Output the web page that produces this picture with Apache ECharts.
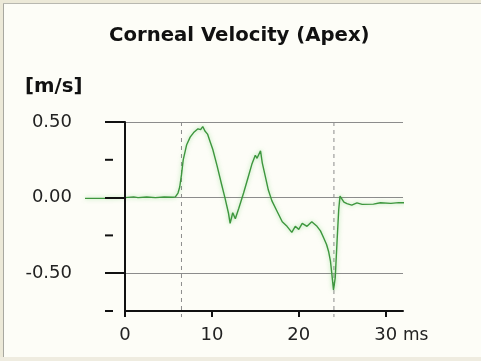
<!DOCTYPE html>
<html><head><meta charset="utf-8">
<script src="https://cdn.jsdelivr.net/npm/echarts@6/dist/echarts.min.js"></script>
<style>html,body{margin:0;padding:0;background:#fdfdf7;overflow:hidden}#c{width:481px;height:361px}</style>
</head><body><div id="c"></div>
<script>
const timeMs = [-4.6, -2, 0, 1.0, 1.5, 2.5, 3.5, 4.5, 5.5, 5.8, 6.1, 6.3, 6.5, 6.7, 7.1, 7.5, 7.9, 8.4, 8.7, 8.95, 9.2, 9.5, 9.8, 10.1, 10.6, 11.15, 11.5, 11.9, 12.1, 12.4, 12.7, 13.1, 13.65, 14.2, 14.6, 15.0, 15.2, 15.6, 15.8, 16.15, 16.5, 16.9, 17.5, 18.1, 18.65, 19.2, 19.6, 20.0, 20.4, 20.95, 21.5, 22.1, 22.5, 22.9, 23.2, 23.45, 23.65, 23.8, 24.0, 24.2, 24.4, 24.6, 24.75, 24.9, 25.2, 25.55, 26.1, 26.7, 27.3, 28.6, 29.4, 30.6, 31.5, 32.3];
const velocity = [-0.005, -0.004, 0.0, 0.005, 0.0, 0.004, 0.0, 0.004, 0.002, 0.005, 0.03, 0.07, 0.15, 0.25, 0.35, 0.40, 0.43, 0.455, 0.45, 0.47, 0.44, 0.42, 0.37, 0.32, 0.21, 0.08, 0.0, -0.10, -0.17, -0.10, -0.14, -0.07, 0.03, 0.14, 0.22, 0.28, 0.26, 0.31, 0.23, 0.14, 0.05, -0.02, -0.09, -0.16, -0.19, -0.23, -0.19, -0.21, -0.17, -0.19, -0.16, -0.19, -0.22, -0.27, -0.31, -0.36, -0.42, -0.50, -0.61, -0.53, -0.30, -0.08, 0.01, 0.02, -0.03, -0.04, -0.05, -0.035, -0.045, -0.043, -0.034, -0.038, -0.033, -0.034];
const yTickValues = [-0.5, 0, 0.5];
const yMinorTicks = [-0.75, -0.25, 0.25];
const xTickValues = [0, 10, 20, 30];
const eventTimes = [6.5, 24.05];
const gridLevels = [0.5, 0, -0.5];

const FONT = 'DejaVu Sans';
const X_MIN = 0, X_MAX = 32, X_PRE = -5;
const PLOT_LEFT = 125, PLOT_RIGHT = 78, PLOT_W = 481 - PLOT_LEFT - PLOT_RIGHT;
const PRE_LEFT = PLOT_LEFT - (X_MIN - X_PRE) * PLOT_W / (X_MAX - X_MIN);

const chart = echarts.init(document.getElementById('c'), null, {renderer: 'canvas'});
const curve = timeMs.map((t, i) => [t, velocity[i]]);

const series = [{
  type: 'line',
  data: curve,
  xAxisIndex: 1, yAxisIndex: 2,
  symbol: 'none',
  clip: false,
  z: 5,
  lineStyle: {color: '#3d963d', width: 1.4, shadowColor: 'rgba(90,200,90,0.55)', shadowBlur: 4}
}, {
  type: 'line', data: [], xAxisIndex: 0, yAxisIndex: 0,
  markLine: {
    silent: true, symbol: 'none', label: {show: false}, animation: false,
    lineStyle: {color: '#8c8c8c', width: 1.2, type: 'solid'},
    data: gridLevels.map(v => ({yAxis: v}))
  }
}];
eventTimes.forEach(t => series.push({
  type: 'line', data: [[t, 0.5], [t, -0.79]], xAxisIndex: 0, yAxisIndex: 0,
  symbol: 'none', clip: false, silent: true, z: 3,
  lineStyle: {color: '#8c8c8c', width: 1, type: [4, 4]}
}));

chart.setOption({
  animation: false,
  backgroundColor: '#fdfdf7',
  graphic: [
    {type: 'rect', shape: {x: 0, y: 0, width: 481, height: 3}, style: {fill: '#ece9d8'}, z: -10},
    {type: 'rect', shape: {x: 0, y: 0, width: 3, height: 361}, style: {fill: '#ece9d8'}, z: -10},
    {type: 'rect', shape: {x: 0, y: 357, width: 481, height: 4}, style: {fill: '#efece0'}, z: -10},
    {type: 'line', shape: {x1: 3.5, y1: 3, x2: 3.5, y2: 357}, style: {stroke: '#a8a8a0', lineWidth: 1}, z: -9},
    {type: 'line', shape: {x1: 3, y1: 3.5, x2: 481, y2: 3.5}, style: {stroke: '#b8b8b0', lineWidth: 1}, z: -9}
  ],
  title: [
    {text: 'Corneal Velocity (Apex)', left: 104, top: 21,
     textStyle: {fontFamily: FONT, fontWeight: 'bold', fontSize: 19.7, color: '#111'}},
    {text: '[m/s]', left: 20, top: 72,
     textStyle: {fontFamily: FONT, fontWeight: 'bold', fontSize: 19.7, color: '#111'}}
  ],
  grid: [
    {left: PLOT_LEFT, right: PLOT_RIGHT, top: 122, bottom: 50, containLabel: false},
    {left: PRE_LEFT, right: PLOT_RIGHT, top: 122, bottom: 50, containLabel: false}
  ],
  xAxis: [{
    type: 'value', min: X_MIN, max: X_MAX, gridIndex: 0,
    name: 'ms', nameLocation: 'end', nameGap: -2,
    nameTextStyle: {fontFamily: FONT, fontSize: 17, color: '#222', verticalAlign: 'top', align: 'left', padding: [16, 0, 0, 0]},
    axisLine: {show: true, onZero: false, lineStyle: {color: '#111', width: 2}},
    axisTick: {show: true, customValues: xTickValues, length: 6, lineStyle: {color: '#111', width: 2}},
    axisLabel: {customValues: xTickValues, margin: 15, fontFamily: FONT, fontSize: 18, color: '#222'},
    splitLine: {show: false}
  }, {
    type: 'value', min: X_PRE, max: X_MAX, gridIndex: 1, show: false
  }],
  yAxis: [{
    type: 'value', min: -0.75, max: 0.5, gridIndex: 0, z: 6,
    axisLine: {show: true, onZero: false, lineStyle: {color: '#111', width: 2}},
    axisTick: {show: true, customValues: yTickValues, length: 20, lineStyle: {color: '#111', width: 2}},
    axisLabel: {customValues: yTickValues, margin: 53, fontFamily: FONT, fontSize: 18, color: '#222',
      formatter: v => v.toFixed(2)},
    splitLine: {show: false}
  }, {
    type: 'value', min: -0.75, max: 0.5, position: 'left', gridIndex: 0,
    axisLine: {show: false},
    axisTick: {show: false},
    axisLabel: {customValues: yMinorTicks, margin: 12, formatter: () => '{d|}',
      rich: {d: {width: 8, height: 2, backgroundColor: '#111'}}},
    splitLine: {show: false}
  }, {
    type: 'value', min: -0.75, max: 0.5, gridIndex: 1, show: false
  }],
  series: series
});
</script></body></html>
